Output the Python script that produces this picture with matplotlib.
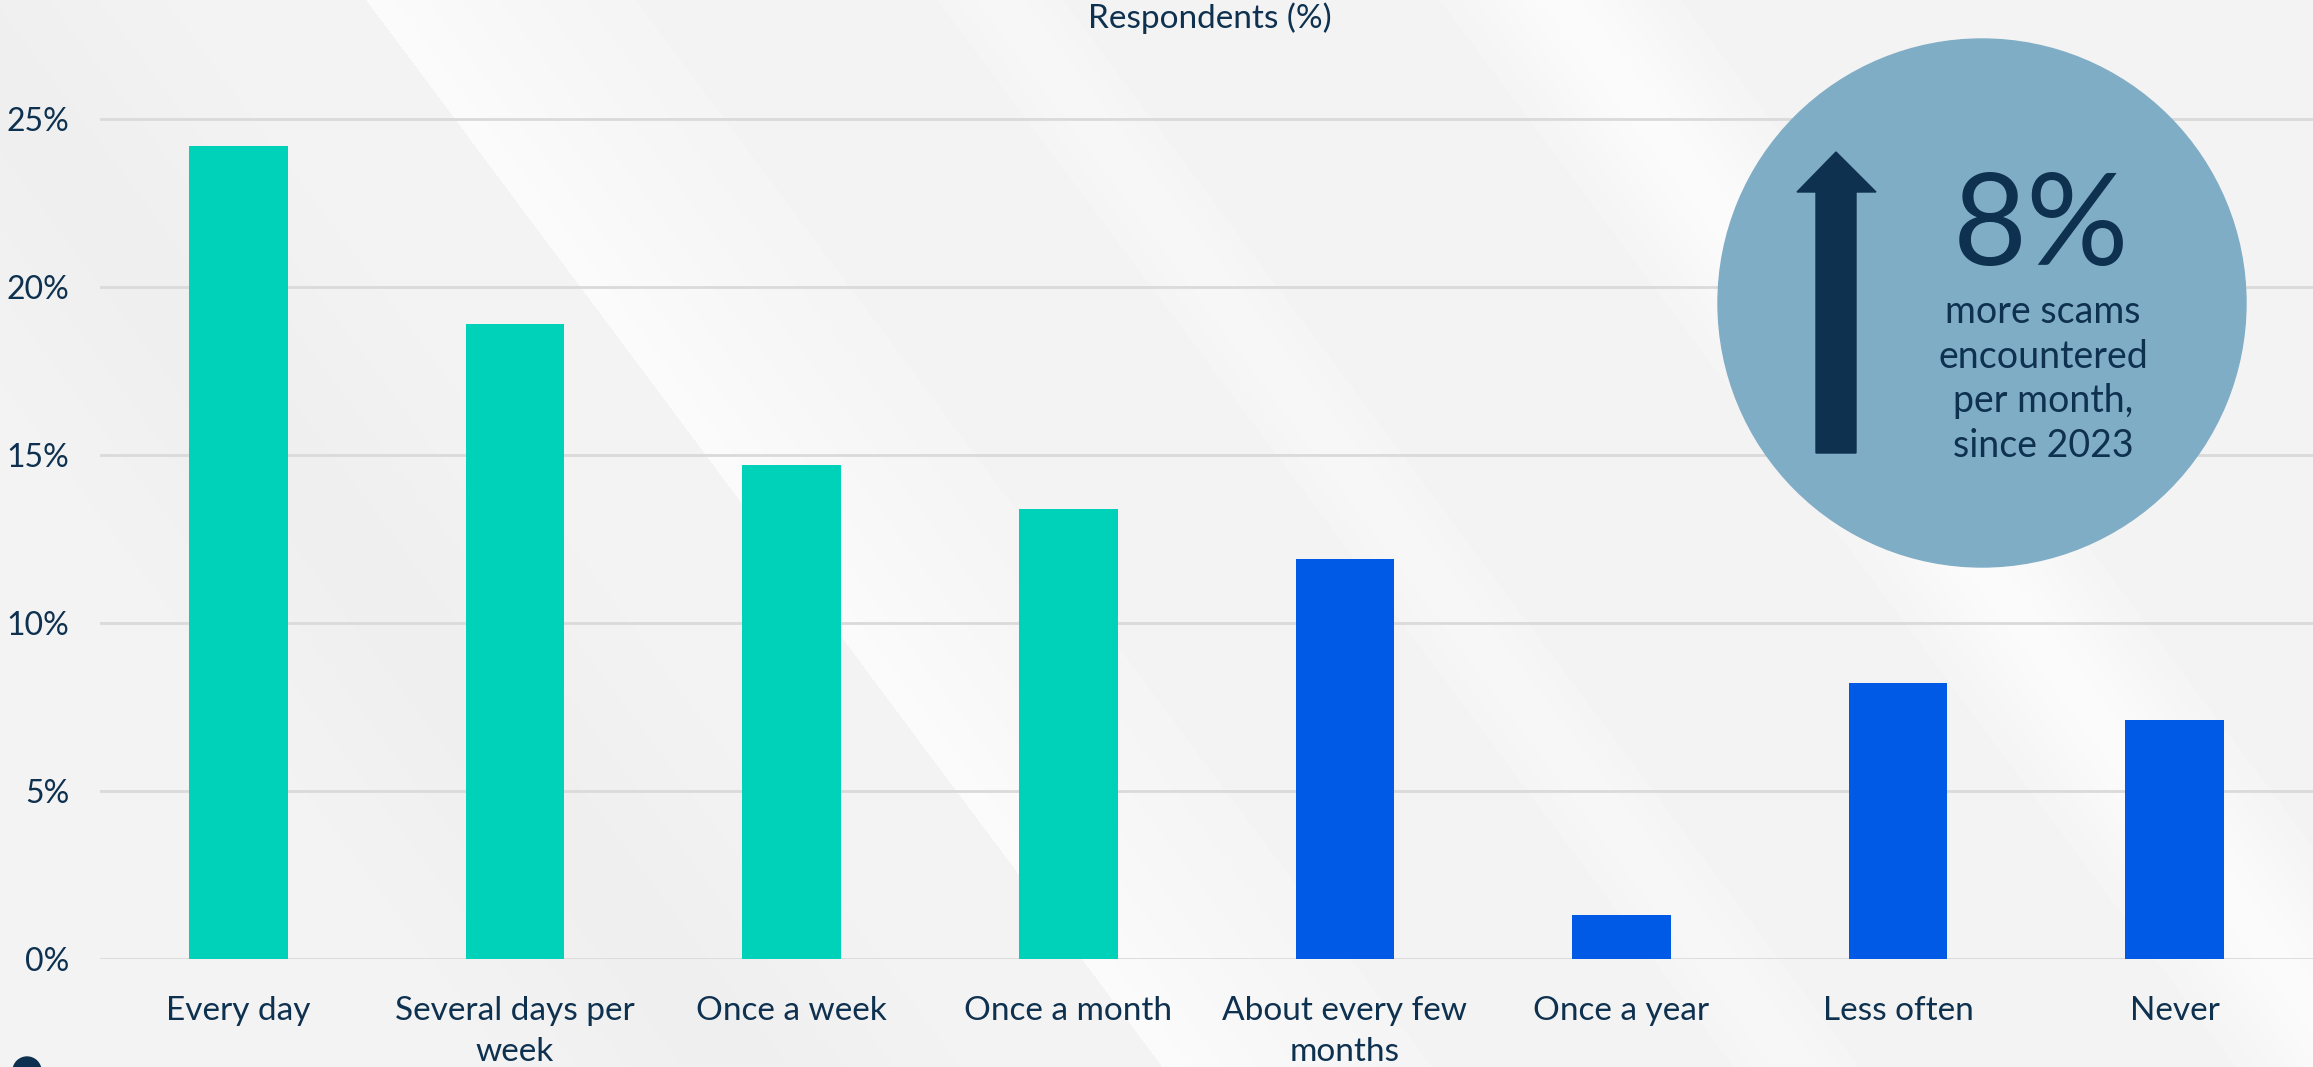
import numpy as np
import matplotlib.pyplot as plt
from matplotlib.patches import Circle, Polygon

categories = ["Every day", "Several days per\nweek", "Once a week", "Once a month",
              "About every few\nmonths", "Once a year", "Less often", "Never"]
respondents = [24.2, 18.9, 14.7, 13.4, 11.9, 1.3, 8.2, 7.1]
monthly_or_more = [True, True, True, True, False, False, False, False]
y_ticks = [0, 5, 10, 15, 20, 25]
badge_value = "8%"
badge_text = "more scams\nencountered\nper month,\nsince 2023"

TEAL = "#00d2ba"
BLUE = "#005ae6"
NAVY = "#0e3150"
BADGE = "#80adc6"
GRID = "#dadada"

plt.rcParams["font.family"] = ["Lato", "DejaVu Sans"]

W, H = 2313, 1067
fig = plt.figure(figsize=(W / 100, H / 100), dpi=100)

# pale grey backdrop with soft diagonal streaks
bg = fig.add_axes([0, 0, 1, 1], zorder=0)
yy, xx = np.mgrid[0:H, 0:W]
u = xx - yy / 1.34
shade = np.full((H, W), 0.952)
shade -= 0.016 * np.exp(-((u + 60) / 170) ** 2)
shade += 0.032 * ((u > 366) & (u < 700)) * np.clip(1 - (u - 366) / 380, 0, 1) ** 1.5
shade += 0.03 * np.exp(-((u - 1560) / 90) ** 2)
shade += 0.015 * np.exp(-((u - 1000) / 60) ** 2)
shade = np.clip(shade, 0, 1)
bg.imshow(shade, cmap="gray", vmin=0, vmax=1, extent=(0, W, H, 0), aspect="auto")
bg.set_xlim(0, W)
bg.set_ylim(H, 0)
bg.axis("off")

ax = fig.add_axes([0.0433, 0.1015, 0.9567, 0.881], zorder=1)
ax.patch.set_alpha(0)
x = np.arange(len(categories))
colors = [TEAL if m else BLUE for m in monthly_or_more]
ax.bar(x, respondents, width=0.357, color=colors, zorder=3)

ax.set_xlim(-0.5, 7.5)
ax.set_ylim(0, 28)
ax.set_yticks(y_ticks)
ax.set_yticklabels([f"{t}%" for t in y_ticks])
ax.set_xticks(x)
ax.set_xticklabels(categories, linespacing=1.45)
ax.grid(axis="y", color=GRID, linewidth=2, zorder=0)
ax.tick_params(axis="y", length=0, pad=22, labelsize=23, labelcolor=NAVY)
ax.tick_params(axis="x", length=0, pad=27, labelsize=24, labelcolor=NAVY)
for s in ax.spines.values():
    s.set_visible(False)

fig.text(0.523, 0.983, "Respondents (%)", ha="center", va="center",
         fontsize=24, color=NAVY)

# call-out badge drawn in pixel units on top of the chart
ov = fig.add_axes([0, 0, 1, 1], zorder=2)
ov.set_xlim(0, W)
ov.set_ylim(H, 0)
ov.axis("off")
ov.add_patch(Circle((1982, 303), 264, color=BADGE))
ov.add_patch(Polygon([(1816, 453), (1816, 192), (1797, 192), (1836, 152),
                      (1876, 192), (1856, 192), (1856, 453)], closed=True, color=NAVY))
ov.text(2041, 229, badge_value, ha="center", va="center", fontsize=92,
        fontweight="normal", color=NAVY)
ov.text(2043, 379, badge_text, ha="center", va="center", fontsize=27,
        linespacing=1.3, color=NAVY)
ov.add_patch(Circle((27, 1071), 14, color=NAVY, clip_on=False))

fig.savefig("out.png", dpi=100)
